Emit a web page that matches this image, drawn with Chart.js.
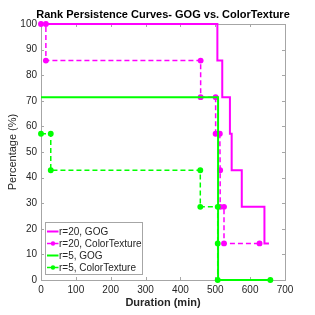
<!DOCTYPE html>
<html>
<head>
<meta charset="utf-8">
<script src="https://cdn.jsdelivr.net/npm/chart.js@4"></script>
<style>
  html, body { margin: 0; padding: 0; background: #fff; }
  #wrap { width: 315px; height: 315px; }
</style>
</head>
<body>
<div id="wrap"><canvas id="rank"></canvas></div>
<script>
// values (percent = k/7 * 100)
const r20GogX = [0, 506, 520, 542, 547, 576, 641, 654];
const r20GogY = [100, 85.71, 71.43, 57.14, 42.86, 28.57, 14.29, 14.29];

const r20CtX = [0, 14, 14, 458, 458, 501, 501, 513, 514, 514, 525, 525, 627];
const r20CtY = [100, 100, 85.71, 85.71, 71.43, 71.43, 57.14, 57.14, 42.86, 28.57, 28.57, 14.29, 14.29];

const r5GogX = [0, 508, 658];
const r5GogY = [71.43, 0, 0];

const r5CtX = [0, 28, 28, 457, 457, 507, 507, 507, 658];
const r5CtY = [57.14, 57.14, 42.86, 42.86, 28.57, 28.57, 14.29, 0, 0];

const xTicks = [0, 100, 200, 300, 400, 500, 600, 700];
const yTicks = [0, 10, 20, 30, 40, 50, 60, 70, 80, 90, 100];

const MAGENTA = "#ff00ff";
const GREEN = "#00ff00";

function pts(xs, ys) {
  return xs.map((x, i) => ({x: x, y: ys[i]}));
}

// box, inward ticks, title and legend like the matlab figure
const matlabAxes = {
  id: "matlabAxes",
  beforeDatasetsDraw(chart) {
    const {ctx, chartArea: a, scales} = chart;
    ctx.save();
    ctx.strokeStyle = "#a6a6a6";
    ctx.lineWidth = 1;
    ctx.strokeRect(a.left + 0.5, a.top + 0.5, a.right - a.left, a.bottom - a.top);
    ctx.beginPath();
    xTicks.forEach(v => {
      const px = Math.round(scales.x.getPixelForValue(v)) + 0.5;
      ctx.moveTo(px, a.bottom); ctx.lineTo(px, a.bottom - 3);
      ctx.moveTo(px, a.top); ctx.lineTo(px, a.top + 3);
    });
    yTicks.forEach(v => {
      const py = Math.round(scales.y.getPixelForValue(v)) + 0.5;
      ctx.moveTo(a.left, py); ctx.lineTo(a.left + 3, py);
      ctx.moveTo(a.right, py); ctx.lineTo(a.right - 3, py);
    });
    ctx.stroke();

    ctx.fillStyle = "#000";
    ctx.font = "bold 11px 'Liberation Sans', Arial, sans-serif";
    ctx.textAlign = "center";
    ctx.textBaseline = "middle";
    ctx.fillText("Rank Persistence Curves- GOG vs. ColorTexture", (a.left + a.right) / 2, 15);
    ctx.restore();
  },
  afterDraw(chart) {
    const {ctx, chartArea: a} = chart;
    ctx.save();
    const bx = a.left + 4.5, by = a.bottom - 57.5, bw = 97, bh = 52;
    ctx.fillStyle = "#fff";
    ctx.fillRect(bx, by, bw, bh);
    ctx.strokeStyle = "#a6a6a6";
    ctx.lineWidth = 1;
    ctx.strokeRect(bx, by, bw, bh);
    ctx.font = "10px 'Liberation Sans', Arial, sans-serif";
    ctx.textAlign = "left";
    ctx.textBaseline = "middle";
    chart.data.datasets.forEach((ds, i) => {
      const yy = by + 9 + i * 12;
      ctx.strokeStyle = ds.borderColor;
      ctx.lineWidth = ds.borderWidth;
      ctx.setLineDash(ds.borderDash || []);
      ctx.beginPath();
      ctx.moveTo(bx + 1.5, yy); ctx.lineTo(bx + 13, yy);
      ctx.stroke();
      ctx.setLineDash([]);
      if (ds.pointRadius > 0) {
        ctx.fillStyle = ds.borderColor;
        ctx.beginPath();
        ctx.arc(bx + 7.5, yy, ds.pointRadius, 0, Math.PI * 2);
        ctx.fill();
      }
      ctx.fillStyle = "#262626";
      ctx.fillText(ds.label, bx + 13.5, yy + 0.5);
    });
    ctx.restore();
  }
};

new Chart(document.getElementById("rank"), {
  type: "line",
  data: {
    datasets: [
      {label: "r=20, GOG", data: pts(r20GogX, r20GogY), borderColor: MAGENTA, borderWidth: 2,
       stepped: "before", pointRadius: 0, order: 4, clip: false},
      {label: "r=20, ColorTexture", data: pts(r20CtX, r20CtY), borderColor: MAGENTA, backgroundColor: MAGENTA,
       borderWidth: 1.5, borderDash: [5, 3], pointRadius: 2.2, order: 3, clip: false},
      {label: "r=5, GOG", data: pts(r5GogX, r5GogY), borderColor: GREEN, borderWidth: 2,
       stepped: "before", pointRadius: 0, order: 2, clip: false},
      {label: "r=5, ColorTexture", data: pts(r5CtX, r5CtY), borderColor: GREEN, backgroundColor: GREEN,
       borderWidth: 1.5, borderDash: [5, 3], pointRadius: 2.2, order: 1, clip: false}
    ]
  },
  options: {
    responsive: true,
    maintainAspectRatio: false,
    animation: false,
    layout: {padding: {top: 24, right: 30, left: 0, bottom: 0}},
    plugins: {legend: {display: false}, title: {display: false}, tooltip: {enabled: false}},
    elements: {line: {tension: 0, fill: false}, point: {pointStyle: "circle", borderWidth: 0}},
    scales: {
      x: {
        type: "linear", min: 0, max: 700,
        grid: {display: false, drawTicks: false},
        border: {display: false},
        ticks: {stepSize: 100, padding: 4, color: "#262626", font: {family: "'Liberation Sans', Arial", size: 10}},
        title: {display: true, text: "Duration (min)", color: "#262626", padding: {top: 0, bottom: 5},
                font: {family: "'Liberation Sans', Arial", size: 11, weight: "bold"}},
        afterFit: s => { s.height = 35; }
      },
      y: {
        type: "linear", min: 0, max: 100,
        grid: {display: false, drawTicks: false},
        border: {display: false},
        ticks: {stepSize: 10, padding: 4, color: "#262626", font: {family: "'Liberation Sans', Arial", size: 10}},
        title: {display: true, text: "Percentage (%)", color: "#262626", padding: {top: 6, bottom: 0},
                font: {family: "'Liberation Sans', Arial", size: 11}},
        afterFit: s => { s.width = 41; }
      }
    }
  },
  plugins: [matlabAxes]
});
</script>
</body>
</html>
